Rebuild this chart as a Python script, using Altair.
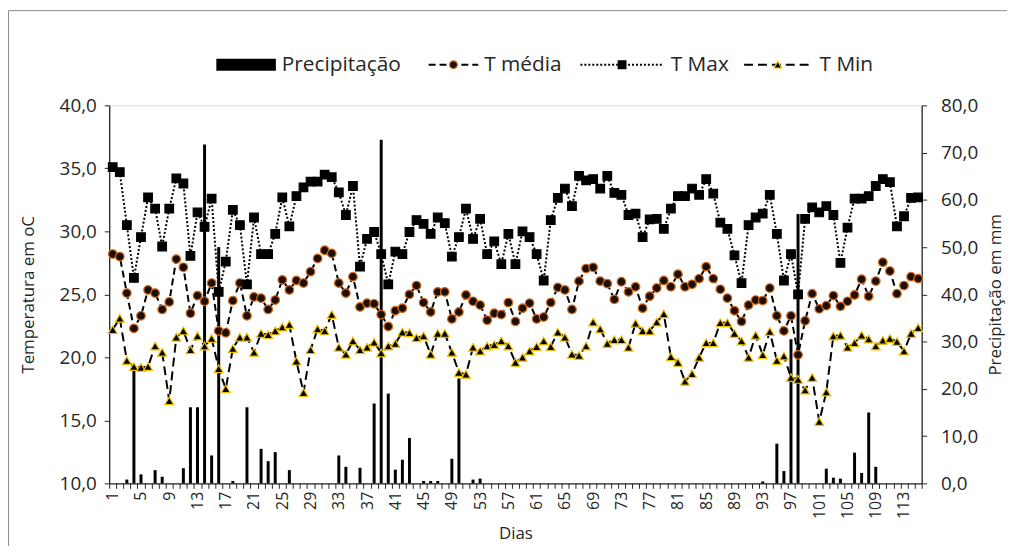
import altair as alt
import pandas as pd

dias = list(range(1, 116))

t_media = [28.2, 28.0, 25.1, 22.3, 23.3, 25.35, 25.1, 23.8, 24.4, 27.8,
           27.15, 23.5, 24.9, 24.45, 25.9, 22.1, 21.95, 24.5, 25.9, 23.3,
           24.8, 24.7, 23.8, 24.55, 26.15, 25.35, 26.1, 25.9, 26.8, 27.85,
           28.5, 28.25, 25.9, 25.1, 26.4, 24.0, 24.3, 24.25, 23.4, 22.45,
           23.7, 23.9, 25.0, 25.7, 24.35, 23.6, 25.2, 25.2, 23.05, 23.6,
           24.95, 24.45, 24.15, 22.95, 23.5, 23.4, 24.35, 22.85, 23.9, 24.3,
           23.05, 23.2, 24.35, 25.55, 25.35, 23.8, 26.05, 27.05, 27.15, 26.05,
           25.85, 24.6, 26.0, 25.2, 25.6, 23.9, 24.85, 25.5, 26.1, 25.6,
           26.6, 25.6, 25.8, 26.25, 27.2, 26.25, 25.4, 24.7, 23.7, 22.85,
           24.15, 24.55, 24.5, 25.5, 23.3, 22.1, 23.3, 20.2, 22.9, 25.05,
           23.85, 24.1, 24.9, 24.05, 24.45, 24.95, 26.2, 24.85, 26.05, 27.55,
           26.85, 25.05, 25.7, 26.4, 26.25]

t_max = [35.1, 34.7, 30.5, 26.3, 29.55, 32.7, 31.8, 28.8, 31.8, 34.2,
         33.8, 28.05, 31.5, 30.35, 32.6, 25.2, 27.6, 31.7, 30.5, 25.8,
         31.1, 28.2, 28.2, 29.8, 32.7, 30.4, 32.8, 33.5, 33.95, 33.95,
         34.5, 34.3, 33.1, 31.3, 33.6, 27.2, 29.4, 29.95, 28.2, 25.8,
         28.4, 28.2, 29.95, 30.9, 30.6, 29.8, 31.1, 30.65, 28.0, 29.55,
         31.8, 29.4, 31.0, 28.2, 29.2, 27.4, 29.8, 27.4, 30.0, 29.55,
         28.2, 26.1, 30.9, 32.65, 33.4, 32.0, 34.4, 34.05, 34.15, 33.4,
         34.4, 33.05, 32.9, 31.3, 31.4, 29.55, 30.95, 31.0, 30.2, 31.8,
         32.8, 32.8, 33.4, 32.9, 34.15, 33.0, 30.7, 30.2, 28.1, 25.9,
         30.5, 31.1, 31.4, 32.9, 29.8, 26.1, 28.2, 25.0, 31.0, 31.9,
         31.5, 32.0, 31.3, 27.5, 30.3, 32.6, 32.6, 32.8, 33.6, 34.15,
         33.9, 30.4, 31.2, 32.65, 32.7]

t_min = [22.2, 23.1, 19.75, 19.27, 19.2, 19.27, 20.9, 20.4, 16.55, 21.6,
         22.1, 20.6, 21.7, 20.9, 21.5, 19.1, 17.5, 20.7, 21.6, 21.6,
         20.4, 21.9, 21.8, 22.1, 22.4, 22.6, 19.7, 17.2, 20.6, 22.25,
         22.1, 23.4, 20.8, 20.25, 21.3, 20.6, 20.8, 21.2, 20.35, 20.9,
         21.1, 22.0, 21.95, 21.55, 21.7, 20.25, 21.9, 21.9, 20.4, 18.8,
         18.65, 20.8, 20.5, 20.9, 21.0, 21.3, 20.9, 19.6, 20.0, 20.5,
         20.85, 21.3, 20.85, 22.0, 21.6, 20.25, 20.15, 20.9, 22.8, 22.25,
         21.1, 21.4, 21.4, 20.8, 22.7, 22.1, 22.1, 22.8, 23.45, 20.05,
         19.6, 18.1, 18.7, 20.0, 21.15, 21.15, 22.75, 22.75, 21.9, 21.3,
         20.0, 21.75, 20.2, 22.05, 19.75, 20.1, 18.4, 18.25, 17.4, 18.4,
         14.9, 17.25, 21.7, 21.75, 20.8, 21.15, 21.75, 21.45, 20.9, 21.35,
         21.5, 21.25, 20.5, 21.9, 22.35]

precip = [0, 0, 0.8, 24.0, 1.9, 0, 2.8, 1.4, 0, 0,
          3.2, 16.1, 16.1, 71.7, 5.9, 50.0, 0, 0.5, 0, 16.1,
          0, 7.3, 4.7, 6.6, 0, 2.8, 0, 0, 0, 0,
          0, 0, 5.9, 3.5, 0, 3.3, 0, 16.9, 72.7, 19.0,
          2.9, 5.0, 9.6, 0, 0.5, 0.5, 0.5, 0, 5.2, 22.2,
          0, 0.8, 1.0, 0, 0, 0, 0, 0, 0, 0,
          0, 0, 0, 0, 0, 0, 0, 0, 0, 0,
          0, 0, 0, 0, 0, 0, 0, 0, 0, 0,
          0, 0, 0, 0, 0, 0, 0, 0, 0, 0,
          0, 0, 0.4, 0, 8.4, 2.6, 30.5, 57.0, 0, 0,
          0, 3.1, 1.2, 1.0, 0, 6.5, 2.2, 15.0, 3.5, 0,
          0, 0, 0, 0, 0]

label_days = list(range(1, 114, 4))
temp_ticks = [10, 15, 20, 25, 30, 35, 40]
precip_ticks = [0, 10, 20, 30, 40, 50, 60, 70, 80]

df = pd.DataFrame({"Dia": dias, "T média": t_media, "T Max": t_max,
                   "T Min": t_min, "Precipitação": precip})

FONT = "Open Sans"
W, H = 819, 381
AX = "#262626"
label_days_str = ",".join(str(d) for d in label_days)

xenc = alt.X("Dia:O", title="Dias",
             scale=alt.Scale(paddingInner=0, paddingOuter=0),
             axis=alt.Axis(labelAngle=-90, tickBand="extent",
                           labelExpr=f"indexof([{label_days_str}], datum.value) >= 0 ? datum.label : ''",
                           labelFontSize=16, titleFontSize=17, titleFontWeight="normal",
                           labelColor=AX, titleColor=AX,
                           domainColor=AX, tickColor=AX, tickSize=5, labelPadding=3,
                           titlePadding=7, labelBaseline="middle", labelAlign="right"))

comma = "replace(format(datum.value, '.1f'), '.', ',')"

base = alt.Chart(df)

bars = base.mark_bar(color="#000000", size=3).encode(
    x=xenc,
    y=alt.Y("Precipitação:Q", title="Precipitação em mm",
            scale=alt.Scale(domain=[0, 80], nice=False),
            axis=alt.Axis(orient="right", values=precip_ticks, labelExpr=comma,
                          labelFontSize=19, titleFontSize=17, titleFontWeight="normal",
                          titleAngle=270, labelColor=AX,
                          titleColor=AX, domainColor=AX, tickColor=AX, tickSize=5,
                          grid=False, labelPadding=14, titlePadding=27)),
)

yenc = alt.Y("value:Q", title="Temperatura em oC",
             scale=alt.Scale(domain=[10, 40], nice=False),
             axis=alt.Axis(values=temp_ticks, labelExpr=comma, labelFontSize=19,
                           titleFontSize=17, titleFontWeight="normal",
                           labelColor=AX, titleColor=AX,
                           domainColor=AX, tickColor=AX, tickSize=5, grid=False,
                           labelPadding=8, titlePadding=22))


def serie(col, dash, shape, fill, stroke, size):
    b = base.transform_calculate(value=f"datum['{col}']")
    ln = b.mark_line(color="#000000", strokeWidth=2, strokeDash=dash).encode(x=xenc, y=yenc)
    pt = b.mark_point(shape=shape, filled=True, fill=fill, stroke=stroke,
                      strokeWidth=1.2, size=size, opacity=1).encode(x=xenc, y=yenc)
    return ln, pt


l_med, p_med = serie("T média", [7, 4], "circle", "#1e0f05", "#d2691e", 75)
l_max, p_max = serie("T Max", [2, 2], "square", "#000000", "#000000", 75)
l_min, p_min = serie("T Min", [9, 5], "triangle-up", "#000000", "#f2c200", 80)

# legend (annotation)
LY = -41
leg = alt.Chart(pd.DataFrame({"k": [0]}))
leg_rect = leg.mark_rect(color="#000000").encode(
    x=alt.value(108), x2=alt.value(168), y=alt.value(LY - 6), y2=alt.value(LY + 6))
leg_texts = []
for xt, txt in [(174, "Precipitação"), (378, "T média"), (566, "T Max"), (716, "T Min")]:
    leg_texts.append(leg.mark_text(align="left", baseline="middle", fontSize=21,
                                   font=FONT, color=AX).encode(
        x=alt.value(xt), y=alt.value(LY), text=alt.value(txt)))
leg_lines = []
for x1, x2, dash in [(322, 372, [7, 4]), (475, 558, [2, 2]), (640, 708, [9, 5])]:
    leg_lines.append(leg.mark_rule(color="#000000", strokeWidth=2, strokeDash=dash).encode(
        x=alt.value(x1), x2=alt.value(x2), y=alt.value(LY)))
leg_pts = []
for xp, shape, fill, stroke in [(347, "circle", "#1e0f05", "#d2691e"),
                                (517, "square", "#000000", "#000000"),
                                (674, "triangle-up", "#000000", "#f2c200")]:
    leg_pts.append(leg.mark_point(shape=shape, filled=True, fill=fill, stroke=stroke,
                                  strokeWidth=1.2, size=60, opacity=1).encode(
        x=alt.value(xp), y=alt.value(LY)))

frame = leg.mark_rect(fill="#ffffff", fillOpacity=0, stroke="#8c8c8c", strokeWidth=1,
                      clip=False).encode(
    x=alt.value(-101.5), x2=alt.value(W + 120), y=alt.value(-95.5), y2=alt.value(H + 120))

temps = alt.layer(l_med, l_max, l_min, p_med, p_max, p_min)

chart = alt.layer(frame, bars, temps, leg_rect, *leg_lines, *leg_pts, *leg_texts).resolve_scale(
    y="independent"
).properties(
    width=W, height=H,
    padding={"left": 102, "top": 96, "right": 86, "bottom": 61},
    autosize=alt.AutoSizeParams(type="none"),
).configure_view(stroke=None).configure(font=FONT).configure_axis(domainWidth=1.3)

chart.save("out.html", embed_options={"renderer": "svg", "actions": False})
